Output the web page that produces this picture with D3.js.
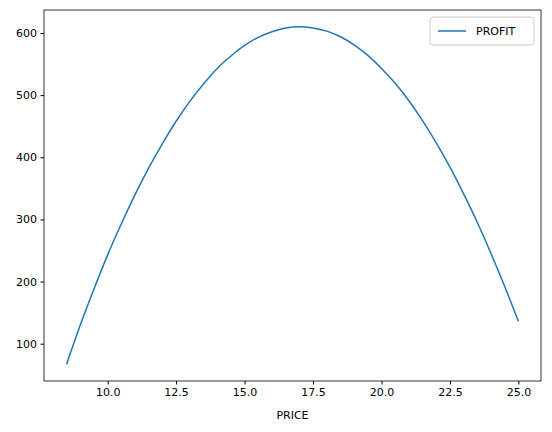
<!DOCTYPE html>
<html>
<head>
<script src="https://cdn.jsdelivr.net/npm/d3@7"></script>
<style>
  body { margin: 0; background: #fff; }
  text { font-family: "DejaVu Sans", sans-serif; }
</style>
</head>
<body>
<svg id="chart" width="552" height="432"></svg>
<script>
// Values
var price = [8.5, 9, 9.5, 10, 10.5, 11, 11.5, 12, 12.5, 13, 13.5, 14, 14.5, 15, 15.5, 16, 16.5,
             17, 17.5, 18, 18.5, 19, 19.5, 20, 20.5, 21, 21.5, 22, 22.5, 23, 23.5, 24, 24.5, 25];
var profit = [67, 130, 188, 243, 293, 340, 383, 422, 458, 490, 518, 543, 563, 580, 593, 602, 608,
              610, 608, 603, 594, 581, 564, 543, 519, 491, 459, 423, 384, 341, 295, 245, 192, 136];
var xTicks = [10, 12.5, 15, 17.5, 20, 22.5, 25];
var yTicks = [100, 200, 300, 400, 500, 600];

var svg = d3.select("#chart");
var plotLeft = 44, plotRight = 541, plotTop = 10, plotBottom = 381;

var x = d3.scaleLinear().domain([7.675, 25.825]).range([plotLeft, plotRight]);
var y = d3.scaleLinear().domain([40, 637]).range([plotBottom, plotTop]);

// x axis
svg.append("g")
  .attr("transform", "translate(0," + plotBottom + ")")
  .call(d3.axisBottom(x).tickValues(xTicks).tickFormat(d3.format(".1f")).tickSizeOuter(0).tickSize(3.5).tickPadding(3.5))
  .call(g => g.select(".domain").remove())
  .selectAll("text").style("font-size", "11px").attr("fill", "#000");

// y axis
svg.append("g")
  .attr("transform", "translate(" + plotLeft + ",0)")
  .call(d3.axisLeft(y).tickValues(yTicks).tickSizeOuter(0).tickSize(3.5).tickPadding(3.5))
  .call(g => g.select(".domain").remove())
  .selectAll("text").style("font-size", "11px").attr("fill", "#000");

// frame
svg.append("rect")
  .attr("x", plotLeft).attr("y", plotTop)
  .attr("width", plotRight - plotLeft).attr("height", plotBottom - plotTop)
  .attr("fill", "none").attr("stroke", "#000").attr("stroke-width", 0.8);

// line
var line = d3.line().x((d, i) => x(price[i])).y(d => y(d)).curve(d3.curveMonotoneX);
svg.append("path")
  .datum(profit)
  .attr("d", line)
  .attr("fill", "none")
  .attr("stroke", "#1f77b4")
  .attr("stroke-width", 1.5);

// x label
svg.append("text")
  .attr("x", (plotLeft + plotRight) / 2).attr("y", 419)
  .attr("text-anchor", "middle")
  .style("font-size", "11px")
  .text("PRICE");

// legend
var lg = svg.append("g");
lg.append("rect")
  .attr("x", 430).attr("y", 17).attr("width", 104).attr("height", 28)
  .attr("rx", 3).attr("fill", "#fff").attr("stroke", "#ccc");
lg.append("line")
  .attr("x1", 438).attr("x2", 466).attr("y1", 31).attr("y2", 31)
  .attr("stroke", "#1f77b4").attr("stroke-width", 1.5);
lg.append("text")
  .attr("x", 476).attr("y", 35)
  .style("font-size", "11px")
  .text("PROFIT");
</script>
</body>
</html>
